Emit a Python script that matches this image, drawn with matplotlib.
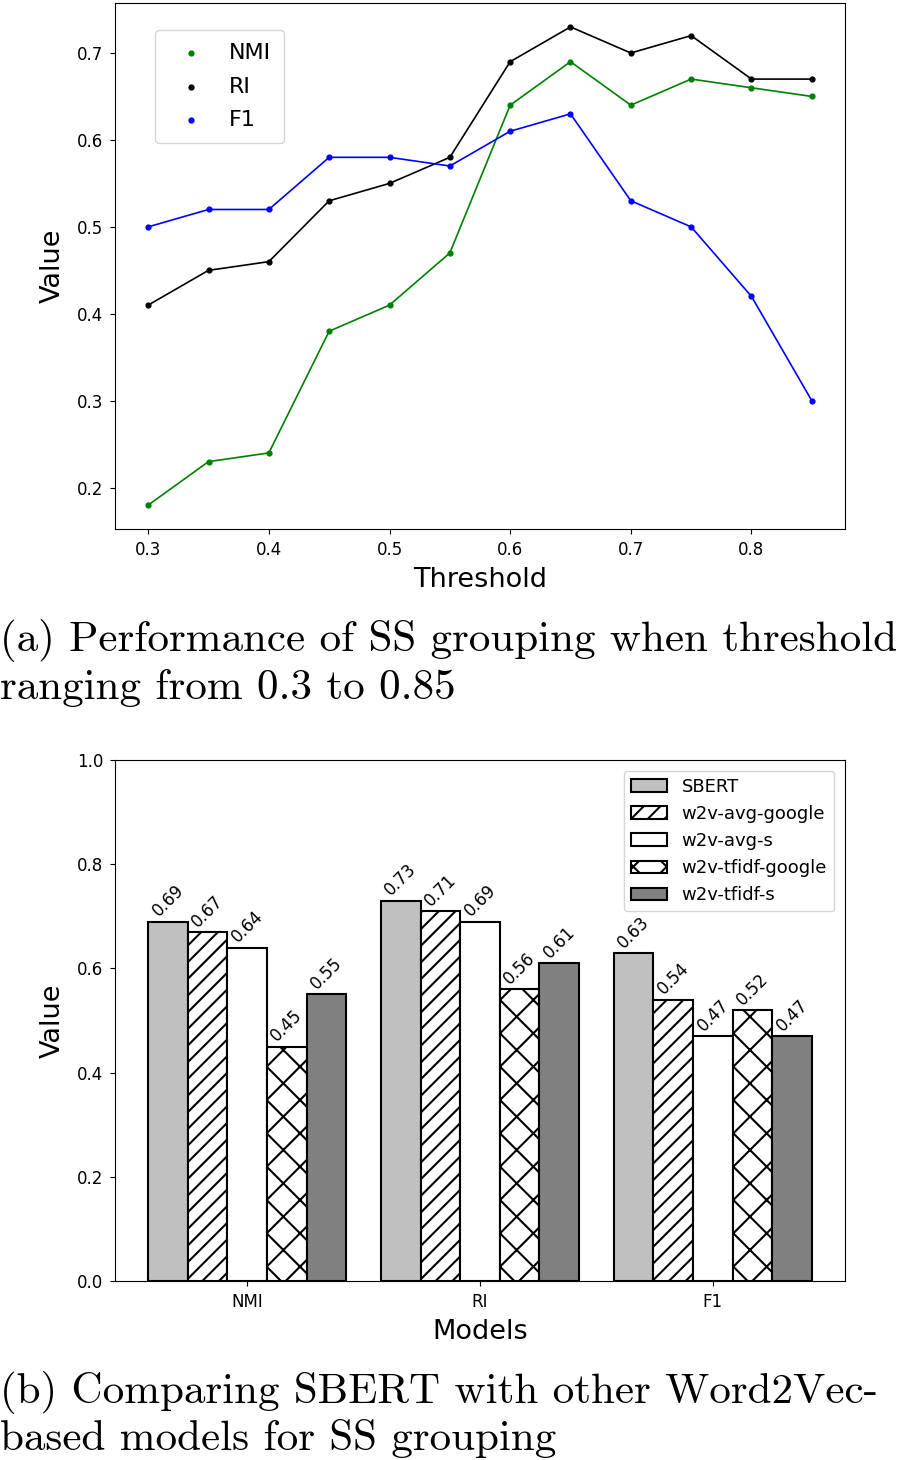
import numpy as np
import matplotlib.pyplot as plt

plt.rcParams['hatch.linewidth'] = 1.5

# datos de la grafica (a)
umbrales = [0.3, 0.35, 0.4, 0.45, 0.5, 0.55, 0.6, 0.65, 0.7, 0.75, 0.8, 0.85]
nmi = [0.18, 0.23, 0.24, 0.38, 0.41, 0.47, 0.64, 0.69, 0.64, 0.67, 0.66, 0.65]
ri = [0.41, 0.45, 0.46, 0.53, 0.55, 0.58, 0.69, 0.73, 0.70, 0.72, 0.67, 0.67]
f1 = [0.50, 0.52, 0.52, 0.58, 0.58, 0.57, 0.61, 0.63, 0.53, 0.50, 0.42, 0.30]

# datos de la grafica (b)
metricas = ["NMI", "RI", "F1"]
modelos = ["SBERT", "w2v-avg-google", "w2v-avg-s", "w2v-tfidf-google", "w2v-tfidf-s"]
sbert = [0.69, 0.73, 0.63]
w2v_avg_google = [0.67, 0.71, 0.54]
w2v_avg_s = [0.64, 0.69, 0.47]
w2v_tfidf_google = [0.45, 0.56, 0.52]
w2v_tfidf_s = [0.55, 0.61, 0.47]

fig = plt.figure(figsize=(9.02, 14.6), dpi=100)

# ---------------- (a) lineas ----------------
ax1 = fig.add_axes([115/902, 931/1460, 730/902, 526/1460])
series = [(nmi, "green", "NMI"), (ri, "black", "RI"), (f1, "blue", "F1")]
for valores, color, nombre in series:
    ax1.plot(umbrales, valores, color=color, linewidth=1.2)
    ax1.scatter(umbrales, valores, color=color, s=12, label=nombre, zorder=3)
ax1.set_xlabel("Threshold", fontsize=19.5, labelpad=6)
ax1.set_ylabel("Value", fontsize=19.5, labelpad=8)
ax1.tick_params(labelsize=12, pad=5)
ax1.legend(loc="upper left", bbox_to_anchor=(0.04, 0.97), fontsize=16,
           handletextpad=0.7, borderpad=0.6, labelspacing=0.6)

# ---------------- (b) barras ----------------
ax2 = fig.add_axes([115/902, 179/1460, 730/902, 521/1460])
x = np.arange(len(metricas))
ancho = 0.17
estilos = [
    (sbert, "#c0c0c0", ""),
    (w2v_avg_google, "white", "//"),
    (w2v_avg_s, "white", ""),
    (w2v_tfidf_google, "white", "x"),
    (w2v_tfidf_s, "#808080", ""),
]
for i, (valores, color, trama) in enumerate(estilos):
    barras = ax2.bar(x + (i - 2) * ancho, valores, ancho, color=color, hatch=trama,
                     edgecolor="black", linewidth=1.5, label=modelos[i])
    ax2.bar_label(barras, labels=[f"{v:.2f}" for v in valores], rotation=45,
                  fontsize=12, padding=1)
ax2.set_ylim(0, 1.0)
ax2.set_xticks(x)
ax2.set_xticklabels(metricas)
ax2.set_xlabel("Models", fontsize=19.5, labelpad=6)
ax2.set_ylabel("Value", fontsize=19.5, labelpad=8)
ax2.tick_params(labelsize=12, pad=5)
ax2.legend(loc="upper right", fontsize=13, borderaxespad=0.6)

# ---------------- pies de figura ----------------
cap = dict(fontfamily="cmr10", fontsize=31, ha="left", va="center")
fig.text(0.0, (1460 - 641) / 1460, "(a) Performance of SS grouping when threshold", **cap)
fig.text(0.0, (1460 - 688) / 1460, "ranging from 0.3 to 0.85", **cap)
fig.text(0.0, (1460 - 1392) / 1460, "(b) Comparing SBERT with other Word2Vec-", **cap)
fig.text(0.0, (1460 - 1438) / 1460, "based models for SS grouping", **cap)

fig.savefig("out.png", dpi=100)
